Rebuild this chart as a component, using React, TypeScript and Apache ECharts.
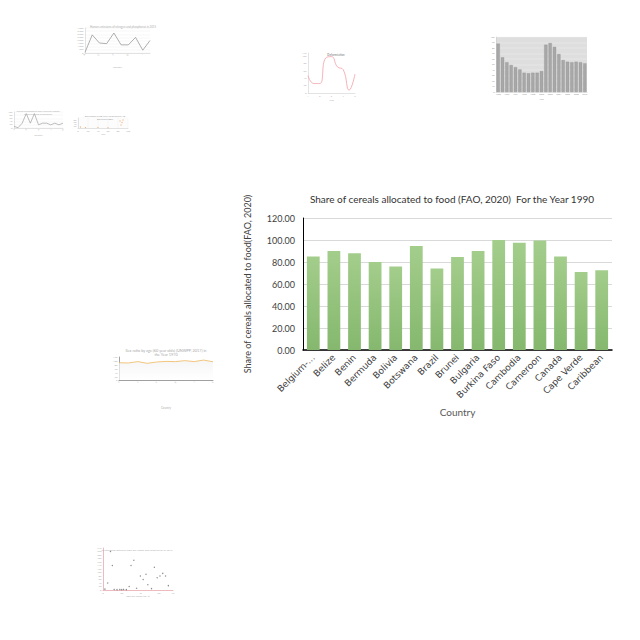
import React, { useEffect, useRef } from "react";
import * as echarts from "echarts";

// Main chart data
const countries = ["Belgium-Luxembourg", "Belize", "Benin", "Bermuda", "Bolivia", "Botswana", "Brazil", "Brunei", "Bulgaria", "Burkina Faso", "Cambodia", "Cameroon", "Canada", "Cape Verde", "Caribbean"];
const cerealShare = [85, 90, 88, 80, 76, 94.5, 74, 84.5, 90, 100, 97.5, 99.5, 85, 71, 72.5];
const yTicks = [0, 20, 40, 60, 80, 100, 120];

// Thumbnail data (faint small charts around the page)
const t1Labels = ["A", "B", "C", "D", "E", "F", "G", "H", "I", "J"];
const t1Values = [100, 2900, 1600, 1500, 3200, 1300, 1300, 2500, 450, 2000];
const t2Labels = ["1", "2", "3", "4", "5", "6", "7", "8", "9"];
const t2Values = [48, 26, 26, 96, 100, 72, 64, 8, 52];
const t3Labels = ["1990", "1991", "1992", "1993", "1994", "1995", "1996", "1997", "1998", "1999", "2000", "2001", "2002", "2003", "2004", "2005", "2006", "2007", "2008", "2009", "2010"];
const t3Values = [88, 63, 54, 49, 45, 41, 35, 34, 35, 35, 38, 86, 89, 82, 69, 58, 55, 54, 55, 54, 52];
const t4Labels = ["a", "b", "c", "d", "e", "f", "g", "h", "i", "j", "k", "l", "m"];
const t4Values = [10, 2, 30, 90, 30, 90, 20, 30, 30, 20, 30, 20, 30];
const t5Points = [[5, 10], [15, 4], [40, 6], [60, 3], [84, 70], [88, 55], [90, 80], [86, 30]];
const t6Labels = ["a", "b", "c", "d", "e", "f", "g", "h", "i", "j", "k"];
const t6Values = [90, 89, 96, 87, 94, 97, 96, 101, 96, 104, 95];
const t7Points = [[2, 5], [5, 40], [8, 220], [10, 140], [12, 3], [15, 2], [18, 3], [20, 2], [22, 3], [25, 2], [28, 20], [30, 140], [33, 170], [36, 10], [40, 80], [43, 60], [46, 90], [48, 30], [52, 8], [55, 130], [58, 70], [61, 80], [64, 95], [67, 80], [70, 25]];

const faint = "#c8c8c8";
const faintText = "#b0b0b0";

function tinyAxis(gridIndex: number, extra: any = {}) {
  return {
    gridIndex,
    axisLine: { show: true, lineStyle: { color: faint, width: 0.5 } },
    axisTick: { show: false },
    axisLabel: { show: true, fontSize: 2.5, color: faintText, margin: 1.5 },
    splitLine: { show: true, lineStyle: { color: "#ececec", width: 0.4 } },
    ...extra,
  };
}

export default function App() {
  const ref = useRef<HTMLDivElement>(null);
  useEffect(() => {
    const chart = echarts.init(ref.current!, null, { renderer: "svg" });
    const font = "Lato, 'DejaVu Sans', sans-serif";
    const wide = "'DejaVu Sans', sans-serif";
    const option: any = {
      animation: false,
      backgroundColor: "#ffffff",
      textStyle: { fontFamily: font },
      title: [
        {
          text: "Share of cereals allocated to food (FAO, 2020)  For the Year 1990",
          left: 447, top: 189, textAlign: "center",
          textStyle: { fontSize: 10, fontWeight: "normal", color: "#333333", fontFamily: font },
        },
        { text: "Human emissions of nitrogen and phosphorus in 2015", left: 118, top: 20, textAlign: "center", textStyle: { fontSize: 2.8, fontWeight: "normal", color: faintText } },
        { text: "Deforestation", left: 331, top: 48, textAlign: "center", textStyle: { fontSize: 2.8, fontWeight: "bold", color: "#999" } },
        { text: "Cereal production and yield per capita\nin developing economies", left: 33, top: 104, textAlign: "center", textStyle: { fontSize: 2.6, lineHeight: 3, fontWeight: "normal", color: faintText } },
        { text: "DEFORESTATION WITH ELECTRICITY IN\nDEVELOPMENT", left: 100, top: 110, textAlign: "center", textStyle: { fontSize: 2.2, lineHeight: 3, fontWeight: "normal", color: "#a0a0a0" } },
        { text: "Sex ratio by age (60 year olds) (UNWPP, 2017) in\nthe Year 1970", left: 161, top: 343, textAlign: "center", textStyle: { fontSize: 3.8, lineHeight: 4.5, fontWeight: "normal", color: "#a8a8a8" } },
        { text: "Relationship between GDP per capita and forest cover in 2015", left: 132, top: 543, textAlign: "center", textStyle: { fontSize: 2.6, fontWeight: "normal", color: faintText } },
      ],
      grid: [
        { left: 303, top: 218, width: 309, height: 132 },
        { left: 85, top: 28, width: 65, height: 25 },
        { left: 308, top: 53, width: 47, height: 40 },
        { left: 496, top: 37, width: 91, height: 55, show: true, backgroundColor: "#dedede", borderWidth: 0 },
        { left: 14, top: 112, width: 49, height: 16 },
        { left: 78, top: 118, width: 50, height: 10 },
        { left: 119, top: 357, width: 94, height: 23 },
        { left: 103, top: 548, width: 70, height: 42 },
      ],
      xAxis: [
        {
          type: "category", gridIndex: 0, data: countries,
          axisLine: { lineStyle: { color: "#000", width: 1.5 } },
          axisTick: { show: false },
          axisLabel: {
            rotate: 45, fontSize: 9, fontFamily: wide, color: "#404040", margin: 6, interval: 0,
            formatter: (v: string) => (v.length > 14 ? v.slice(0, 8) + "..." : v),
          },
          name: "Country", nameLocation: "middle", nameGap: 57,
          nameTextStyle: { fontSize: 10, color: "#595959" },
        },
        tinyAxis(1, { type: "category", data: t1Labels, boundaryGap: false, splitLine: { show: false }, axisLabel: { fontSize: 2.5, color: faintText, rotate: 45, margin: 1.5 }, name: "Country", nameLocation: "middle", nameGap: 12, nameTextStyle: { fontSize: 2.6, color: faintText } }),
        tinyAxis(2, { type: "category", data: t2Labels, boundaryGap: false, splitLine: { show: false }, name: "Year", nameLocation: "middle", nameGap: 4, nameTextStyle: { fontSize: 2.6, color: faintText } }),
        tinyAxis(3, { type: "category", data: t3Labels, splitLine: { show: false }, axisLabel: { fontSize: 2.2, color: "#999", margin: 1.5 }, name: "Year", nameLocation: "middle", nameGap: 6, nameTextStyle: { fontSize: 2.4, color: "#999" } }),
        tinyAxis(4, { type: "category", data: t4Labels, boundaryGap: false, splitLine: { show: false }, axisLabel: { fontSize: 2.2, color: faintText, rotate: 45, margin: 1 }, name: "Country", nameLocation: "middle", nameGap: 6, nameTextStyle: { fontSize: 2.4, color: faintText } }),
        tinyAxis(5, { type: "value", min: 0, max: 100, splitLine: { show: true, lineStyle: { color: "#eee", width: 0.4 } }, name: "Year", nameLocation: "middle", nameGap: 5, nameTextStyle: { fontSize: 2.4, color: faintText } }),
        tinyAxis(6, { type: "category", data: t6Labels, boundaryGap: false, splitLine: { show: false }, axisLabel: { fontSize: 2.6, color: faintText, rotate: 45, margin: 1.5 }, axisLine: { show: true, lineStyle: { color: "#888", width: 0.8 } }, name: "Country", nameLocation: "middle", nameGap: 26, nameTextStyle: { fontSize: 2.8, color: faintText } }),
        tinyAxis(7, { type: "value", min: 0, max: 75, splitLine: { show: false }, axisLine: { show: true, lineStyle: { color: "#e8a8b0", width: 0.8 } }, name: "GDP per capita (int.-$)", nameLocation: "middle", nameGap: 4, nameTextStyle: { fontSize: 2.4, color: faintText } }),
      ],
      yAxis: [
        {
          type: "value", gridIndex: 0, min: 0, max: 120, interval: 20,
          axisLine: { show: true, lineStyle: { color: "#000", width: 1 } },
          axisTick: { show: false },
          axisLabel: { fontSize: 9, color: "#404040", margin: 8, formatter: (v: number) => v.toFixed(2) },
          splitLine: { lineStyle: { color: "#d9d9d9", width: 1 } },
          name: "Share of cereals allocated to food(FAO, 2020)", nameLocation: "middle", nameGap: 51, nameRotate: 90,
          nameTextStyle: { fontSize: 9, color: "#404040" },
        },
        tinyAxis(1, { type: "value", min: 0, max: 4000, interval: 500 }),
        tinyAxis(2, { type: "value", min: 0, max: 110, interval: 20, splitLine: { show: false } }),
        tinyAxis(3, { type: "value", min: 0, max: 100, interval: 10, splitLine: { show: true, lineStyle: { color: "#f5f5f5", width: 0.4 } }, axisLabel: { fontSize: 2.2, color: "#999", margin: 1.5 } }),
        tinyAxis(4, { type: "value", min: 0, max: 100, interval: 20 }),
        tinyAxis(5, { type: "value", min: 0, max: 100, interval: 20, splitLine: { show: true, lineStyle: { color: "#eee", width: 0.4 } } }),
        tinyAxis(6, { type: "value", min: 0, max: 120, interval: 20, splitLine: { show: false }, axisLine: { show: true, lineStyle: { color: "#888", width: 0.8 } }, axisLabel: { fontSize: 2.6, color: faintText, margin: 1.5 } }),
        tinyAxis(7, { type: "value", min: 0, max: 240, interval: 20, splitLine: { show: false }, axisLine: { show: true, lineStyle: { color: "#e8a8b0", width: 0.8 } } }),
      ],
      series: [
        {
          type: "bar", xAxisIndex: 0, yAxisIndex: 0, data: cerealShare, barWidth: "62%",
          itemStyle: {
            color: new echarts.graphic.LinearGradient(0, 0, 0, 1, [
              { offset: 0, color: "#a3cd8b" },
              { offset: 1, color: "#85b86e" },
            ]),
          },
        },
        { type: "line", xAxisIndex: 1, yAxisIndex: 1, data: t1Values, symbol: "none", lineStyle: { color: "#9a9a9a", width: 0.8 } },
        { type: "line", xAxisIndex: 2, yAxisIndex: 2, data: t2Values, smooth: true, symbol: "none", lineStyle: { color: "#f2a0a8", width: 0.8 } },
        { type: "bar", xAxisIndex: 3, yAxisIndex: 3, data: t3Values, barWidth: "75%", itemStyle: { color: "#a8a8a8", borderColor: "#8c8c8c", borderWidth: 0.3 } },
        { type: "line", xAxisIndex: 4, yAxisIndex: 4, data: t4Values, symbol: "none", lineStyle: { color: "#a0a0a0", width: 0.7 } },
        { type: "scatter", xAxisIndex: 5, yAxisIndex: 5, data: t5Points, symbolSize: 1.2, itemStyle: { color: "#f0a060" } },
        {
          type: "line", xAxisIndex: 6, yAxisIndex: 6, data: t6Values, symbol: "none", lineStyle: { color: "#f0b860", width: 0.8 },
          areaStyle: { color: new echarts.graphic.LinearGradient(0, 0, 0, 1, [{ offset: 0, color: "#f2f2f2" }, { offset: 1, color: "#ffffff" }]) },
        },
        { type: "scatter", xAxisIndex: 7, yAxisIndex: 7, data: t7Points, symbolSize: 1.4, itemStyle: { color: "#707070" } },
      ],
    };
    chart.setOption(option);
    return () => chart.dispose();
  }, []);
  return <div ref={ref} style={{ position: "fixed", left: 0, top: 0, width: 640, height: 640 }} />;
}
